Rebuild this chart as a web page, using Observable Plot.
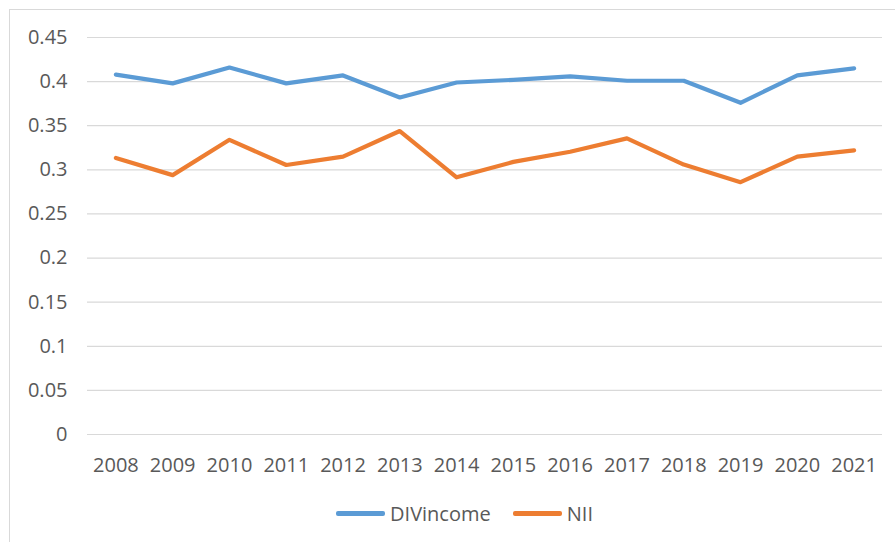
<!DOCTYPE html>
<html>
<head>
<meta charset="utf-8">
<script src="https://cdn.jsdelivr.net/npm/d3@7"></script>
<script src="https://cdn.jsdelivr.net/npm/@observablehq/plot@0.6"></script>
<style>
  html, body { margin: 0; padding: 0; background: #fff; }
  #wrap { position: relative; width: 895px; height: 542px; overflow: hidden; font-family: "Open Sans", sans-serif; }
  #frame { position: absolute; left: 9px; top: 9px; width: 1000px; height: 1000px; border: 1.5px solid #d9d9d9; box-sizing: border-box; }
  #chart { position: absolute; left: 0; top: 0; }
  #legend { position: absolute; left: 17px; top: 500px; width: 895px; display: flex; justify-content: center; align-items: center; font-size: 20px; color: #595959; }
  .item { display: flex; align-items: center; }
  .swatch { width: 49px; height: 4.5px; border-radius: 2px; margin-right: 5px; }
</style>
</head>
<body>
<div id="wrap">
  <div id="frame"></div>
  <div id="chart"></div>
  <div id="legend"></div>
</div>
<script>
const years = ["2008","2009","2010","2011","2012","2013","2014","2015","2016","2017","2018","2019","2020","2021"];
const divIncome = [0.408, 0.398, 0.416, 0.398, 0.407, 0.382, 0.399, 0.402, 0.406, 0.401, 0.401, 0.376, 0.407, 0.415];
const nii = [0.3135, 0.294, 0.334, 0.3055, 0.315, 0.344, 0.2915, 0.309, 0.3205, 0.3357, 0.306, 0.286, 0.315, 0.322];
const seriesNames = ["DIVincome", "NII"];
const seriesColors = ["#5B9BD5", "#ED7D31"];
const yTicks = [0, 0.05, 0.1, 0.15, 0.2, 0.25, 0.3, 0.35, 0.4, 0.45];

const rows = [];
years.forEach((y, i) => {
  rows.push({year: y, value: divIncome[i], series: seriesNames[0]});
  rows.push({year: y, value: nii[i], series: seriesNames[1]});
});

const chart = Plot.plot({
  width: 895,
  height: 490,
  marginTop: 37,
  marginBottom: 56,
  marginLeft: 87,
  marginRight: 13,
  style: { fontFamily: "'Open Sans', sans-serif", fontSize: "20px", color: "#595959", background: "transparent" },
  x: { type: "point", domain: years, padding: 0.5, round: false, label: null },
  y: { domain: [0, 0.45], label: null },
  color: { domain: seriesNames, range: seriesColors },
  marks: [
    Plot.gridY(yTicks, { stroke: "#d9d9d9", strokeOpacity: 1, strokeWidth: 1.2 }),
    Plot.axisY({ ticks: yTicks, tickSize: 0, tickPadding: 20, tickFormat: d => String(d), label: null, fill: "#595959" }),
    Plot.axisX({ tickSize: 0, tickPadding: 23, label: null, fill: "#595959" }),
    Plot.line(rows, { x: "year", y: "value", z: "series", stroke: "series", strokeWidth: 4.2, strokeLinejoin: "round", strokeLinecap: "round" })
  ]
});
document.getElementById("chart").appendChild(chart);

const legend = document.getElementById("legend");
seriesNames.forEach((name, i) => {
  const item = document.createElement("div");
  item.className = "item";
  if (i > 0) item.style.marginLeft = "22px";
  const sw = document.createElement("div");
  sw.className = "swatch";
  sw.style.background = seriesColors[i];
  const label = document.createElement("span");
  label.textContent = name;
  item.appendChild(sw);
  item.appendChild(label);
  legend.appendChild(item);
});
</script>
</body>
</html>
